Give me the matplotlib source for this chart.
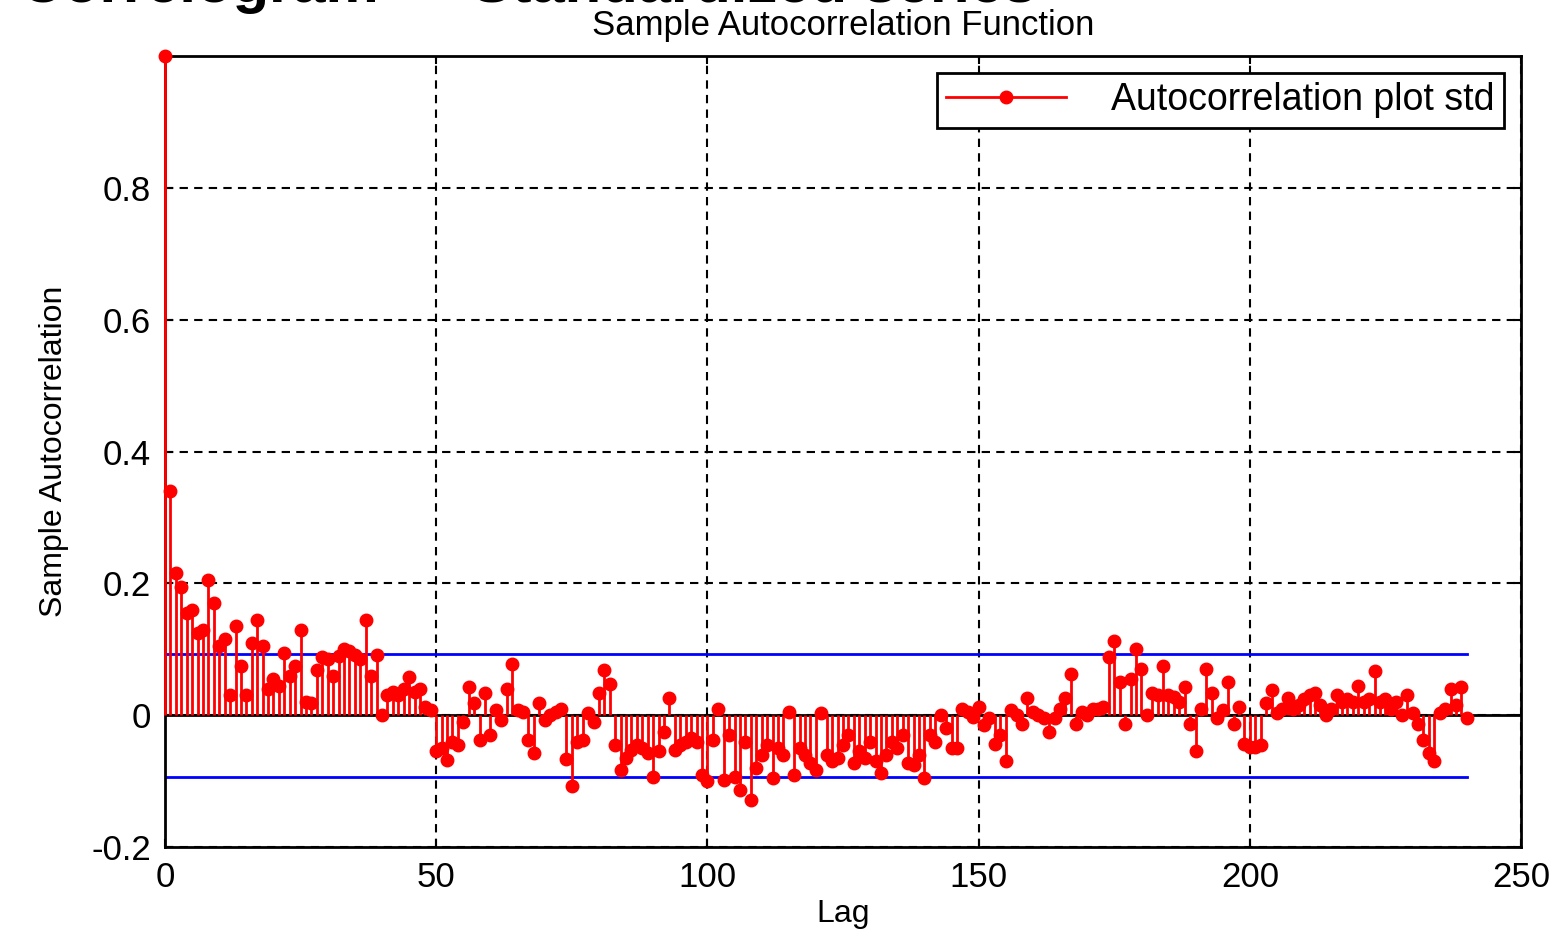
import numpy as np
import matplotlib
matplotlib.use("Agg")
import matplotlib.pyplot as plt
from matplotlib.lines import Line2D
from matplotlib.legend_handler import HandlerLine2D

plt.rcParams['font.family'] = ['Liberation Sans', 'DejaVu Sans']

# sample autocorrelation, lags 0..240
acf = [
    1.0, 0.34, 0.215, 0.195, 0.155, 0.16, 0.125, 0.13, 0.205, 0.17,
    0.105, 0.115, 0.03, 0.135, 0.075, 0.03, 0.11, 0.145, 0.105, 0.04,
    0.055, 0.045, 0.095, 0.06, 0.075, 0.13, 0.02, 0.018, 0.068, 0.088,
    0.085, 0.06, 0.09, 0.1, 0.097, 0.092, 0.085, 0.145, 0.06, 0.092,
    0.0, 0.03, 0.035, 0.03, 0.04, 0.058, 0.035, 0.04, 0.013, 0.008,
    -0.055, -0.05, -0.068, -0.04, -0.045, -0.01, 0.043, 0.018, -0.038, 0.033,
    -0.03, 0.008, -0.008, 0.04, 0.077, 0.008, 0.005, -0.038, -0.058, 0.018,
    -0.008, 0.0, 0.005, 0.01, -0.067, -0.108, -0.04, -0.038, 0.003, -0.01,
    0.033, 0.068, 0.048, -0.045, -0.083, -0.065, -0.053, -0.045, -0.05, -0.058,
    -0.093, -0.055, -0.025, 0.026, -0.053, -0.045, -0.04, -0.035, -0.04, -0.09,
    -0.1, -0.038, 0.01, -0.098, -0.03, -0.093, -0.113, -0.04, -0.128, -0.08,
    -0.06, -0.045, -0.096, -0.05, -0.06, 0.005, -0.09, -0.05, -0.06, -0.073,
    -0.083, 0.003, -0.06, -0.07, -0.065, -0.045, -0.03, -0.073, -0.055, -0.065,
    -0.04, -0.07, -0.088, -0.06, -0.04, -0.05, -0.03, -0.073, -0.075, -0.06,
    -0.095, -0.03, -0.04, 0.0, -0.02, -0.05, -0.05, 0.01, 0.005, -0.003,
    0.012, -0.015, -0.005, -0.043, -0.03, -0.07, 0.008, 0.0, -0.013, 0.026,
    0.005, 0.0, -0.005, -0.025, -0.005, 0.01, 0.026, 0.063, -0.013, 0.005,
    0.0, 0.01, 0.01, 0.012, 0.088, 0.113, 0.05, -0.013, 0.055, 0.1,
    0.07, 0.0, 0.033, 0.03, 0.074, 0.03, 0.028, 0.02, 0.043, -0.013,
    -0.055, 0.01, 0.07, 0.033, -0.005, 0.008, 0.05, -0.013, 0.012, -0.043,
    -0.048, -0.048, -0.045, 0.018, 0.038, 0.003, 0.01, 0.026, 0.01, 0.015,
    0.025, 0.03, 0.033, 0.015, 0.0, 0.01, 0.03, 0.02, 0.025, 0.02,
    0.045, 0.02, 0.025, 0.067, 0.02, 0.025, 0.01, 0.02, 0.0, 0.03,
    0.003, -0.013, -0.038, -0.058, -0.07, 0.003, 0.01, 0.04, 0.015, 0.043,
    -0.005,
]
lags = np.arange(len(acf))
bound = 0.0935  # approx 95% confidence bound

xticks = [0, 50, 100, 150, 200, 250]
yticks = [-0.2, 0, 0.2, 0.4, 0.6, 0.8]
ytick_labels = ['-0.2', '0', '0.2', '0.4', '0.6', '0.8']


class EndMarker(HandlerLine2D):
    # marker drawn at the right end of the legend line, MATLAB style
    def get_xdata(self, legend, xdescent, ydescent, width, height, fontsize):
        xdata = np.linspace(-xdescent, -xdescent + width, 2)
        return xdata, [-xdescent + width]


fig = plt.figure(figsize=(15.58, 9.30), dpi=100)
ax = fig.add_axes([0.1059, 0.0892, 0.8704, 0.8506])

ax.vlines(lags, 0, acf, color='red', lw=2, zorder=3, clip_on=False)
ax.plot(lags, acf, 'o', color='red', ms=9, zorder=4, clip_on=False)
ax.axhline(0, color='black', lw=2, zorder=2)
ax.plot([0, 240], [bound, bound], color='blue', lw=2, zorder=2)
ax.plot([0, 240], [-bound, -bound], color='blue', lw=2, zorder=2)

ax.set_xlim(0, 250)
ax.set_ylim(-0.2, 1.0)
ax.set_xticks(xticks)
ax.set_yticks(yticks)
ax.set_yticklabels(ytick_labels)
ax.tick_params(direction='in', length=6, width=1.5, labelsize=25, pad=10,
               top=True, right=True)
ax.grid(True, color='black', linestyle=(0, (4, 3)), lw=1.5)
for s in ax.spines.values():
    s.set_linewidth(2)

ax.set_title('Sample Autocorrelation Function', fontsize=25, pad=15)
ax.set_xlabel('Lag', fontsize=23, labelpad=4)
ax.set_ylabel('Sample Autocorrelation', fontsize=23, labelpad=16)

h = Line2D([], [], color='red', lw=2, marker='o', ms=9)
leg = ax.legend([h], ['Autocorrelation plot std'], loc='upper right',
                handler_map={h: EndMarker()}, fontsize=27, fancybox=False,
                edgecolor='black', framealpha=1, handlelength=3.2,
                handletextpad=1.2, borderaxespad=0.45, borderpad=0.25)
leg.get_frame().set_linewidth(2)

fig.text(0.013, 1 - 2 / 930, 'Correlogram \u2014 Standardized series',
         fontsize=43, ha='left', va='baseline', fontweight='bold')

fig.savefig('out.png', dpi=100)
